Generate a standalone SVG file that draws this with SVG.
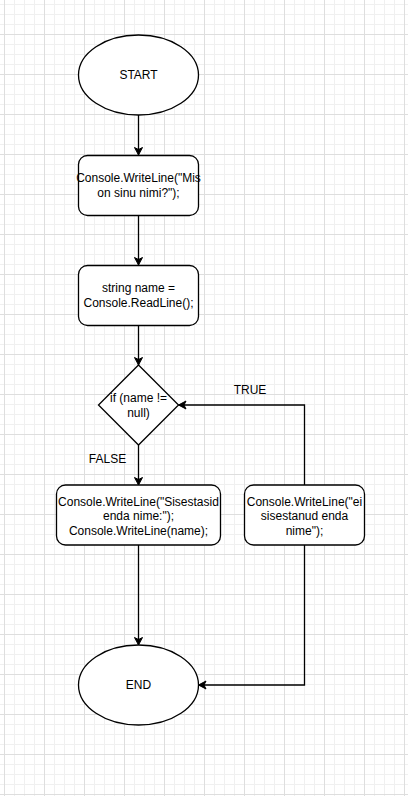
<svg xmlns="http://www.w3.org/2000/svg" width="408" height="796" viewBox="0 0 408 796">
  <defs>
    <pattern id="grid" patternUnits="userSpaceOnUse" x="4" y="34" width="40" height="40">
      <path d="M10.5 0V40M20.5 0V40M30.5 0V40M0 10.5H40M0 20.5H40M0 30.5H40" stroke="#f0f0f0" stroke-width="1" fill="none"/>
      <path d="M0.5 0V40M0 0.5H40" stroke="#dedede" stroke-width="1" fill="none"/>
    </pattern>
    <marker id="arrow" markerUnits="userSpaceOnUse" viewBox="-8 -5 9 10" refX="0" refY="0" markerWidth="9" markerHeight="10" orient="auto">
      <path d="M0,0 L-7.5,-4 L-5.5,0 L-7.5,4 Z" fill="#000" stroke="#000" stroke-width="1"/>
    </marker>
    <style>
      .shape { fill: #fff; stroke: #000; stroke-width: 1.3; }
      .edge { fill: none; stroke: #000; stroke-width: 1.3; marker-end: url(#arrow); }
      text { font-family: "Liberation Sans", Arial, sans-serif; font-size: 12px; fill: #000; text-anchor: middle; }
    </style>
  </defs>
  <rect width="408" height="796" fill="#fff"/>
  <rect width="408" height="796" fill="url(#grid)"/>

  <g id="connectors">
    <path class="edge" d="M138.5 115V155"/>
    <path class="edge" d="M138.5 215V265"/>
    <path class="edge" d="M138.5 325V365"/>
    <path class="edge" d="M138.5 445V485"/>
    <path class="edge" d="M138.5 545V645"/>
    <path class="edge" d="M304.5 485V405H178.5"/>
    <path class="edge" d="M304.5 545V685H198.5"/>
    <text x="250" y="393.5">TRUE</text>
    <text x="107.5" y="463">FALSE</text>
  </g>

  <g id="start">
    <ellipse class="shape" cx="138.5" cy="75" rx="60" ry="40"/>
    <text x="138.5" y="79">START</text>
  </g>

  <g id="ask-name">
    <rect class="shape" x="78.5" y="155.5" width="120" height="60" rx="9" ry="9"/>
    <text x="138.5" y="182">Console.WriteLine("Mis</text>
    <text x="138.5" y="197">on sinu nimi?");</text>
  </g>

  <g id="read-name">
    <rect class="shape" x="78.5" y="265.5" width="120" height="60" rx="9" ry="9"/>
    <text x="138.5" y="292">string name =</text>
    <text x="138.5" y="307">Console.ReadLine();</text>
  </g>

  <g id="decision">
    <polygon class="shape" points="138.5,365 178.5,405 138.5,445 98.5,405"/>
    <text x="138.5" y="402">if (name !=</text>
    <text x="138.5" y="417">null)</text>
  </g>

  <g id="print-name">
    <rect class="shape" x="56.5" y="485" width="164" height="60" rx="9" ry="9"/>
    <text x="138.5" y="506">Console.WriteLine("Sisestasid</text>
    <text x="138.5" y="520">enda nime:");</text>
    <text x="138.5" y="535">Console.WriteLine(name);</text>
  </g>

  <g id="no-name">
    <rect class="shape" x="244.5" y="485" width="120" height="60" rx="9" ry="9"/>
    <text x="304.5" y="506">Console.WriteLine("ei</text>
    <text x="304.5" y="520">sisestanud enda</text>
    <text x="304.5" y="535">nime");</text>
  </g>

  <g id="end">
    <ellipse class="shape" cx="138.5" cy="685" rx="60" ry="40"/>
    <text x="138.5" y="689">END</text>
  </g>
</svg>
